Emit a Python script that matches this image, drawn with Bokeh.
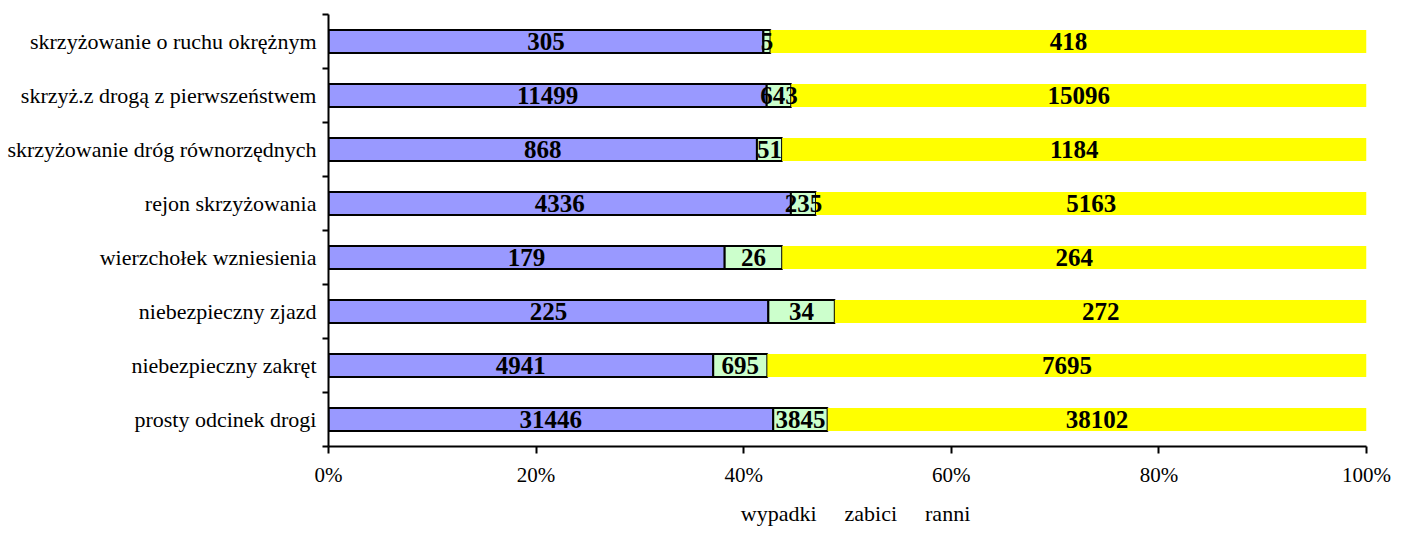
from bokeh.plotting import figure
from bokeh.layouts import column
from bokeh.models import ColumnDataSource, FixedTicker, Legend, LegendItem, Range1d
from bokeh.embed import file_html
from bokeh.resources import INLINE
from bokeh.core.properties import value

categories = [
    "prosty odcinek drogi",
    "niebezpieczny zakręt",
    "niebezpieczny zjazd",
    "wierzchołek wzniesienia",
    "rejon skrzyżowania",
    "skrzyżowanie dróg równorzędnych",
    "skrzyż.z drogą z pierwszeństwem",
    "skrzyżowanie o ruchu okrężnym",
]
wypadki = [31446, 4941, 225, 179, 4336, 868, 11499, 305]
zabici = [3845, 695, 34, 26, 235, 51, 643, 5]
ranni = [38102, 7695, 272, 264, 5163, 1184, 15096, 418]
series_names = ["wypadki", "zabici", "ranni"]
series_colors = ["#9999FF", "#CCFFCC", "#FFFF00"]
x_ticks = [0, 0.2, 0.4, 0.6, 0.8, 1.0]
x_tick_labels = ["0%", "20%", "40%", "60%", "80%", "100%"]

FONT = "Liberation Serif"

n = len(categories)
ys = [i + 0.5 for i in range(n)]
totals = [a + b + c for a, b, c in zip(wypadki, zabici, ranni)]
series = [wypadki, zabici, ranni]

p = figure(
    width=1391, height=490,
    x_range=Range1d(0, 1), y_range=Range1d(0, n),
    output_backend="svg", toolbar_location=None,
    min_border_left=328, min_border_right=25,
    min_border_top=14, min_border_bottom=44,
)
p.outline_line_color = None
p.xgrid.visible = False
p.ygrid.visible = False
p.background_fill_color = "white"
p.border_fill_color = "white"

# separate strip that only carries the legend
pl = figure(
    width=1391, height=40,
    x_range=Range1d(0, 1), y_range=Range1d(0, 1),
    x_axis_type=None, y_axis_type=None,
    output_backend="svg", toolbar_location=None,
    min_border_left=328, min_border_right=25,
    min_border_top=0, min_border_bottom=0,
)
pl.outline_line_color = None
pl.xgrid.visible = False
pl.ygrid.visible = False

renderers = []
legend_renderers = []
lefts = [0.0] * n
for name, vals, col in zip(series_names, series, series_colors):
    shares = [v / t for v, t in zip(vals, totals)]
    rights = [l + s for l, s in zip(lefts, shares)]
    src = ColumnDataSource(dict(
        y=ys, left=lefts, right=rights,
        xc=[(l + r) / 2 for l, r in zip(lefts, rights)],
        label=[str(v) for v in vals],
    ))
    style = dict(fill_color=col, line_color=None) if name == "ranni" else \
        dict(fill_color=col, line_color="black", line_width=2)
    r = p.hbar(y="y", left="left", right="right", height=0.43, source=src, **style)
    # legend-only renderer: same style, no data drawn
    empty = ColumnDataSource(dict(y=[], left=[], right=[]))
    rl = pl.hbar(y="y", left="left", right="right", height=0.43, source=empty, **style)
    renderers.append((name, r, src))
    legend_renderers.append((name, rl))
    lefts = rights

for name, r, src in renderers:
    p.text(x="xc", y="y", text="label", source=src,
           text_font=value(FONT), text_font_style="bold", text_font_size="25px",
           text_align="center", text_baseline="middle", text_color="black")

# y axis: labels at centres, ticks at boundaries
yax = p.yaxis[0]
yax.ticker = FixedTicker(ticks=ys, minor_ticks=list(range(n + 1)))
yax.major_label_overrides = {y: c for y, c in zip(ys, categories)}
yax.major_tick_in = 0
yax.major_tick_out = 0
yax.minor_tick_in = 0
yax.minor_tick_out = 6
yax.minor_tick_line_width = 2
yax.minor_tick_line_color = "black"
yax.axis_line_width = 2
yax.axis_line_color = "black"
yax.major_label_standoff = 6
yax.major_label_text_font = FONT
yax.major_label_text_font_size = "22px"
yax.major_label_text_color = "black"

xax = p.xaxis[0]
xax.ticker = FixedTicker(ticks=x_ticks)
xax.major_label_overrides = {t: l for t, l in zip(x_ticks, x_tick_labels)}
xax.major_tick_in = 0
xax.major_tick_out = 7
xax.major_tick_line_width = 2
xax.minor_tick_line_color = None
xax.axis_line_width = 2
xax.major_label_standoff = 9
xax.major_label_text_font = FONT
xax.major_label_text_font_size = "21px"
xax.major_label_text_color = "black"

legend = Legend(
    items=[LegendItem(label=name, renderers=[r]) for name, r in legend_renderers],
    orientation="horizontal",
    location="bottom_center",
    glyph_width=14, glyph_height=14,
    label_standoff=3, spacing=11, padding=0, margin=3,
    label_text_font=FONT, label_text_font_size="22px", label_text_color="black",
    label_height=16,
    border_line_color=None, background_fill_alpha=0,
)
pl.add_layout(legend, "center")

layout = column(p, pl, spacing=0)
open("out.html", "w").write(file_html(layout, INLINE))
